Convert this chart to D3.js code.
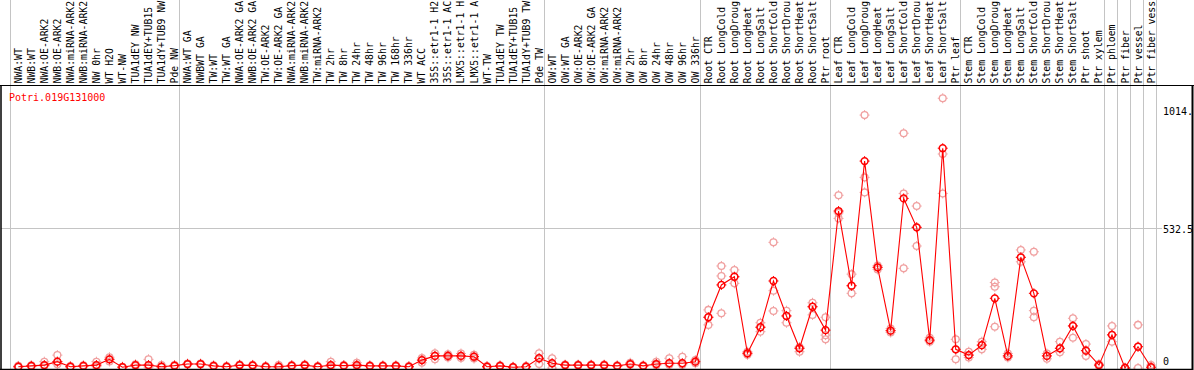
<!DOCTYPE html>
<html>
<head>
<meta charset="utf-8">
<script src="https://cdn.jsdelivr.net/npm/d3@7"></script>
<style>
  html, body { margin: 0; padding: 0; background: #fff; }
  svg { display: block; }
  text { font-family: "DejaVu Sans Mono", "Liberation Mono", monospace; font-size: 10px; }
  .cat { font-size: 9.8px; }
</style>
</head>
<body>
<svg id="chart" width="1194" height="370"></svg>
<script>
const geneId = "Potri.019G131000";

// category labels as far as they are visible in the picture (14 characters)
const categories = [
  "NWA:WT", "NWB:WT", "NWA:OE-ARK2", "NWB:OE-ARK2", "NWA:miRNA-ARK2", "NWB:miRNA-ARK2",
  "NW 0hr", "WT H2O", "WT-NW", "TUA1dEY NW", "TUA1dEY+TUB15", "TUA1dY+TUB9 NW", "Pde NW",
  "NWA:WT GA", "NWBWT GA", "TW:WT", "TW:WT GA", "NWA:OE-ARK2 GA", "NWB:OE-ARK2 GA",
  "TW:OE-ARK2", "TW:OE-ARK2 GA", "NWA:miRNA-ARK2", "NWB:miRNA-ARK2", "TW:miRNA-ARK2",
  "TW 2hr", "TW 8hr", "TW 24hr", "TW 48hr", "TW 96hr", "TW 168hr", "TW 336hr",
  "WT ACC", "35S::etr1-1 H2", "35S::etr1-1 AC", "LMX5::etr1-1 H", "LMX5::etr1-1 A",
  "WT-TW", "TUA1dEY TW", "TUA1dEY+TUB15", "TUA1dY+TUB9 TW", "Pde TW",
  "OW:WT", "OW:WT GA", "OW:OE-ARK2", "OW:OE-ARK2 GA", "OW:miRNA-ARK2", "OW:miRNA-ARK2",
  "OW 2hr", "OW 8hr", "OW 24hr", "OW 48hr", "OW 96hr", "OW 336hr",
  "Root CTR", "Root LongCold", "Root LongDroug", "Root LongHeat", "Root LongSalt",
  "Root ShortCold", "Root ShortDrou", "Root ShortHeat", "Root ShortSalt", "Ptr root",
  "Leaf CTR", "Leaf LongCold", "Leaf LongDroug", "Leaf LongHeat", "Leaf LongSalt",
  "Leaf ShortCold", "Leaf ShortDrou", "Leaf ShortHeat", "Leaf ShortSalt", "Ptr leaf",
  "Stem CTR", "Stem LongCold", "Stem LongDroug", "Stem LongHeat", "Stem LongSalt",
  "Stem ShortCold", "Stem ShortDrou", "Stem ShortHeat", "Stem ShortSalt", "Ptr shoot",
  "Ptr xylem", "Ptr phloem", "Ptr fiber", "Ptr vessel", "Ptr fiber vess"
];

const meanValues = [
  5, 8, 11, 24, 5, 8, 11, 33, 3, 11, 11, 5, 9,
  15, 15, 8, 5, 11, 10, 5, 5, 9, 11, 5, 11, 9, 11, 8, 8, 8, 5,
  30, 46, 46, 46, 43, 5, 8, 3, 5, 37,
  18, 11, 11, 11, 11, 8, 15, 8, 15, 18, 18, 24,
  193, 316, 347, 56, 155, 331, 198, 75, 233, 144,
  597, 313, 787, 383, 142, 645, 535, 106, 836, 71,
  49, 87, 265, 46, 421, 284, 46, 75, 160, 66,
  11, 126, 0, 81, 3
];

const replicateValues = [
  [3, 5, 8], [6, 8, 10], [8, 11, 24], [14, 24, 49], [3, 5, 7], [6, 8, 10],
  [5, 11, 24], [25, 33, 41], [2, 3, 5], [8, 11, 14], [3, 11, 33], [3, 5, 11], [7, 9, 11],
  [13, 15, 17], [13, 15, 17], [6, 8, 10], [3, 5, 7], [9, 11, 13], [8, 10, 12],
  [3, 5, 7], [2, 5, 11], [7, 9, 11], [9, 11, 13], [3, 5, 7],
  [5, 11, 24], [7, 9, 11], [6, 11, 20], [6, 8, 10], [6, 8, 10], [6, 8, 10], [3, 5, 7],
  [20, 30, 38], [33, 46, 56], [40, 46, 52], [38, 46, 55], [36, 43, 50],
  [3, 5, 7], [6, 8, 10], [1, 3, 5], [3, 5, 7], [15, 37, 56],
  [0, 18, 37], [9, 11, 13], [9, 11, 13], [9, 11, 13], [9, 11, 13], [6, 8, 10],
  [12, 15, 20], [6, 8, 10], [10, 15, 24], [12, 18, 37], [12, 18, 43], [18, 24, 30],
  [164, 193, 221], [208, 350, 388], [322, 347, 373], [50, 56, 62], [138, 155, 172],
  [217, 294, 478], [172, 198, 218], [62, 75, 80], [202, 233, 248], [109, 125, 193],
  [569, 590, 657], [284, 313, 357], [668, 725, 962], [375, 383, 390], [135, 142, 150],
  [379, 664, 893], [464, 535, 616], [100, 106, 115], [664, 814, 1026], [33, 71, 109],
  [40, 49, 62], [71, 87, 100], [157, 309, 325], [40, 46, 55], [404, 421, 449],
  [193, 218, 442], [35, 46, 55], [60, 75, 100], [115, 160, 189], [46, 66, 91],
  [8, 11, 15], [100, 126, 160], [0, 0, 2], [0, 81, 164], [0, 3, 11]
];

// indices where a new group begins (gray separators)
const groupStarts = [0, 13, 41, 53, 63, 73, 84, 85, 86, 87, 88];

const yTickValues = [0, 532.5, 1014];
const yTickLabels = ["0", "532.5", "1014."];
const yMax = 1065;

// ---------- drawing ----------
const W = 1194, H = 370;
const svg = d3.select("#chart");
const plotTop = 85, plotBottom = 369, plotRight = 1192;

const idx = d3.range(categories.length);
const x = d3.scaleBand().domain(idx).range([10, 10 + 13.02 * categories.length]).padding(0);
const px = i => x(i) + 8.3;
const y = d3.scaleLinear().domain([0, yMax]).range([368, 88]);

// vertical group separators
const edges = groupStarts.map(k => k < categories.length ? x(k) : x.range()[1]);
svg.append("g").selectAll("line").data(edges).join("line")
  .attr("x1", d => Math.round(d) + 0.5).attr("x2", d => Math.round(d) + 0.5)
  .attr("y1", 0).attr("y2", plotBottom)
  .attr("stroke", "#c4c4c4").attr("stroke-width", 1);

// horizontal mid grid line
svg.append("line")
  .attr("x1", 1).attr("x2", 1162)
  .attr("y1", Math.round(y(yTickValues[1])) + 0.5).attr("y2", Math.round(y(yTickValues[1])) + 0.5)
  .attr("stroke", "#c4c4c4").attr("stroke-width", 1);

// category labels (rotated)
svg.append("g").selectAll("text").data(idx).join("text")
  .attr("class", "cat")
  .attr("transform", i => `translate(${px(i) + 3.5},83.5) rotate(-90)`)
  .attr("fill", "#000")
  .text(i => categories[i]);

// title
svg.append("text")
  .attr("x", 9).attr("y", 101)
  .attr("fill", "#ff0000")
  .text(geneId);

// y labels
const yOffsets = [-3, 5, 14];
svg.append("g").selectAll("text").data(yTickValues).join("text")
  .attr("x", 1163)
  .attr("y", (d, i) => y(d) + yOffsets[i])
  .attr("fill", "#000")
  .text((d, i) => yTickLabels[i]);

// marker helper
function marker(g, cx, cy, color, sw) {
  g.append("circle").attr("cx", cx).attr("cy", cy).attr("r", 3.4)
    .attr("fill", "none").attr("stroke", color).attr("stroke-width", sw);
  const t = [[0, -1], [0, 1], [-1, 0], [1, 0]];
  t.forEach(([dx, dy]) => {
    g.append("line")
      .attr("x1", cx + dx * 3.4).attr("y1", cy + dy * 3.4)
      .attr("x2", cx + dx * 5).attr("y2", cy + dy * 5)
      .attr("stroke", color).attr("stroke-width", 1);
  });
}

// replicates
const repG = svg.append("g");
replicateValues.forEach((reps, i) => {
  reps.forEach(v => marker(repG, px(i), y(v), "#f0a0a0", 1.3));
});

// mean line
const line = d3.line().x((d, i) => px(i)).y(d => y(d));
svg.append("path").datum(meanValues)
  .attr("d", line)
  .attr("fill", "none").attr("stroke", "#ff0000").attr("stroke-width", 1.1);

// mean markers
const meanG = svg.append("g");
meanValues.forEach((v, i) => marker(meanG, px(i), y(v), "#ff0000", 1.5));

// frame lines
svg.append("line").attr("x1", 0).attr("x2", W).attr("y1", plotTop + 0.5).attr("y2", plotTop + 0.5)
  .attr("stroke", "#000").attr("stroke-width", 1);
svg.append("line").attr("x1", 0).attr("x2", plotRight + 1).attr("y1", plotBottom + 0.5).attr("y2", plotBottom + 0.5)
  .attr("stroke", "#000").attr("stroke-width", 1.5);
svg.append("line").attr("x1", 1).attr("x2", 1).attr("y1", plotTop).attr("y2", plotBottom)
  .attr("stroke", "#000").attr("stroke-width", 1.5);
svg.append("line").attr("x1", plotRight + 0.5).attr("x2", plotRight + 0.5).attr("y1", plotTop).attr("y2", H)
  .attr("stroke", "#000").attr("stroke-width", 2);
</script>
</body>
</html>
